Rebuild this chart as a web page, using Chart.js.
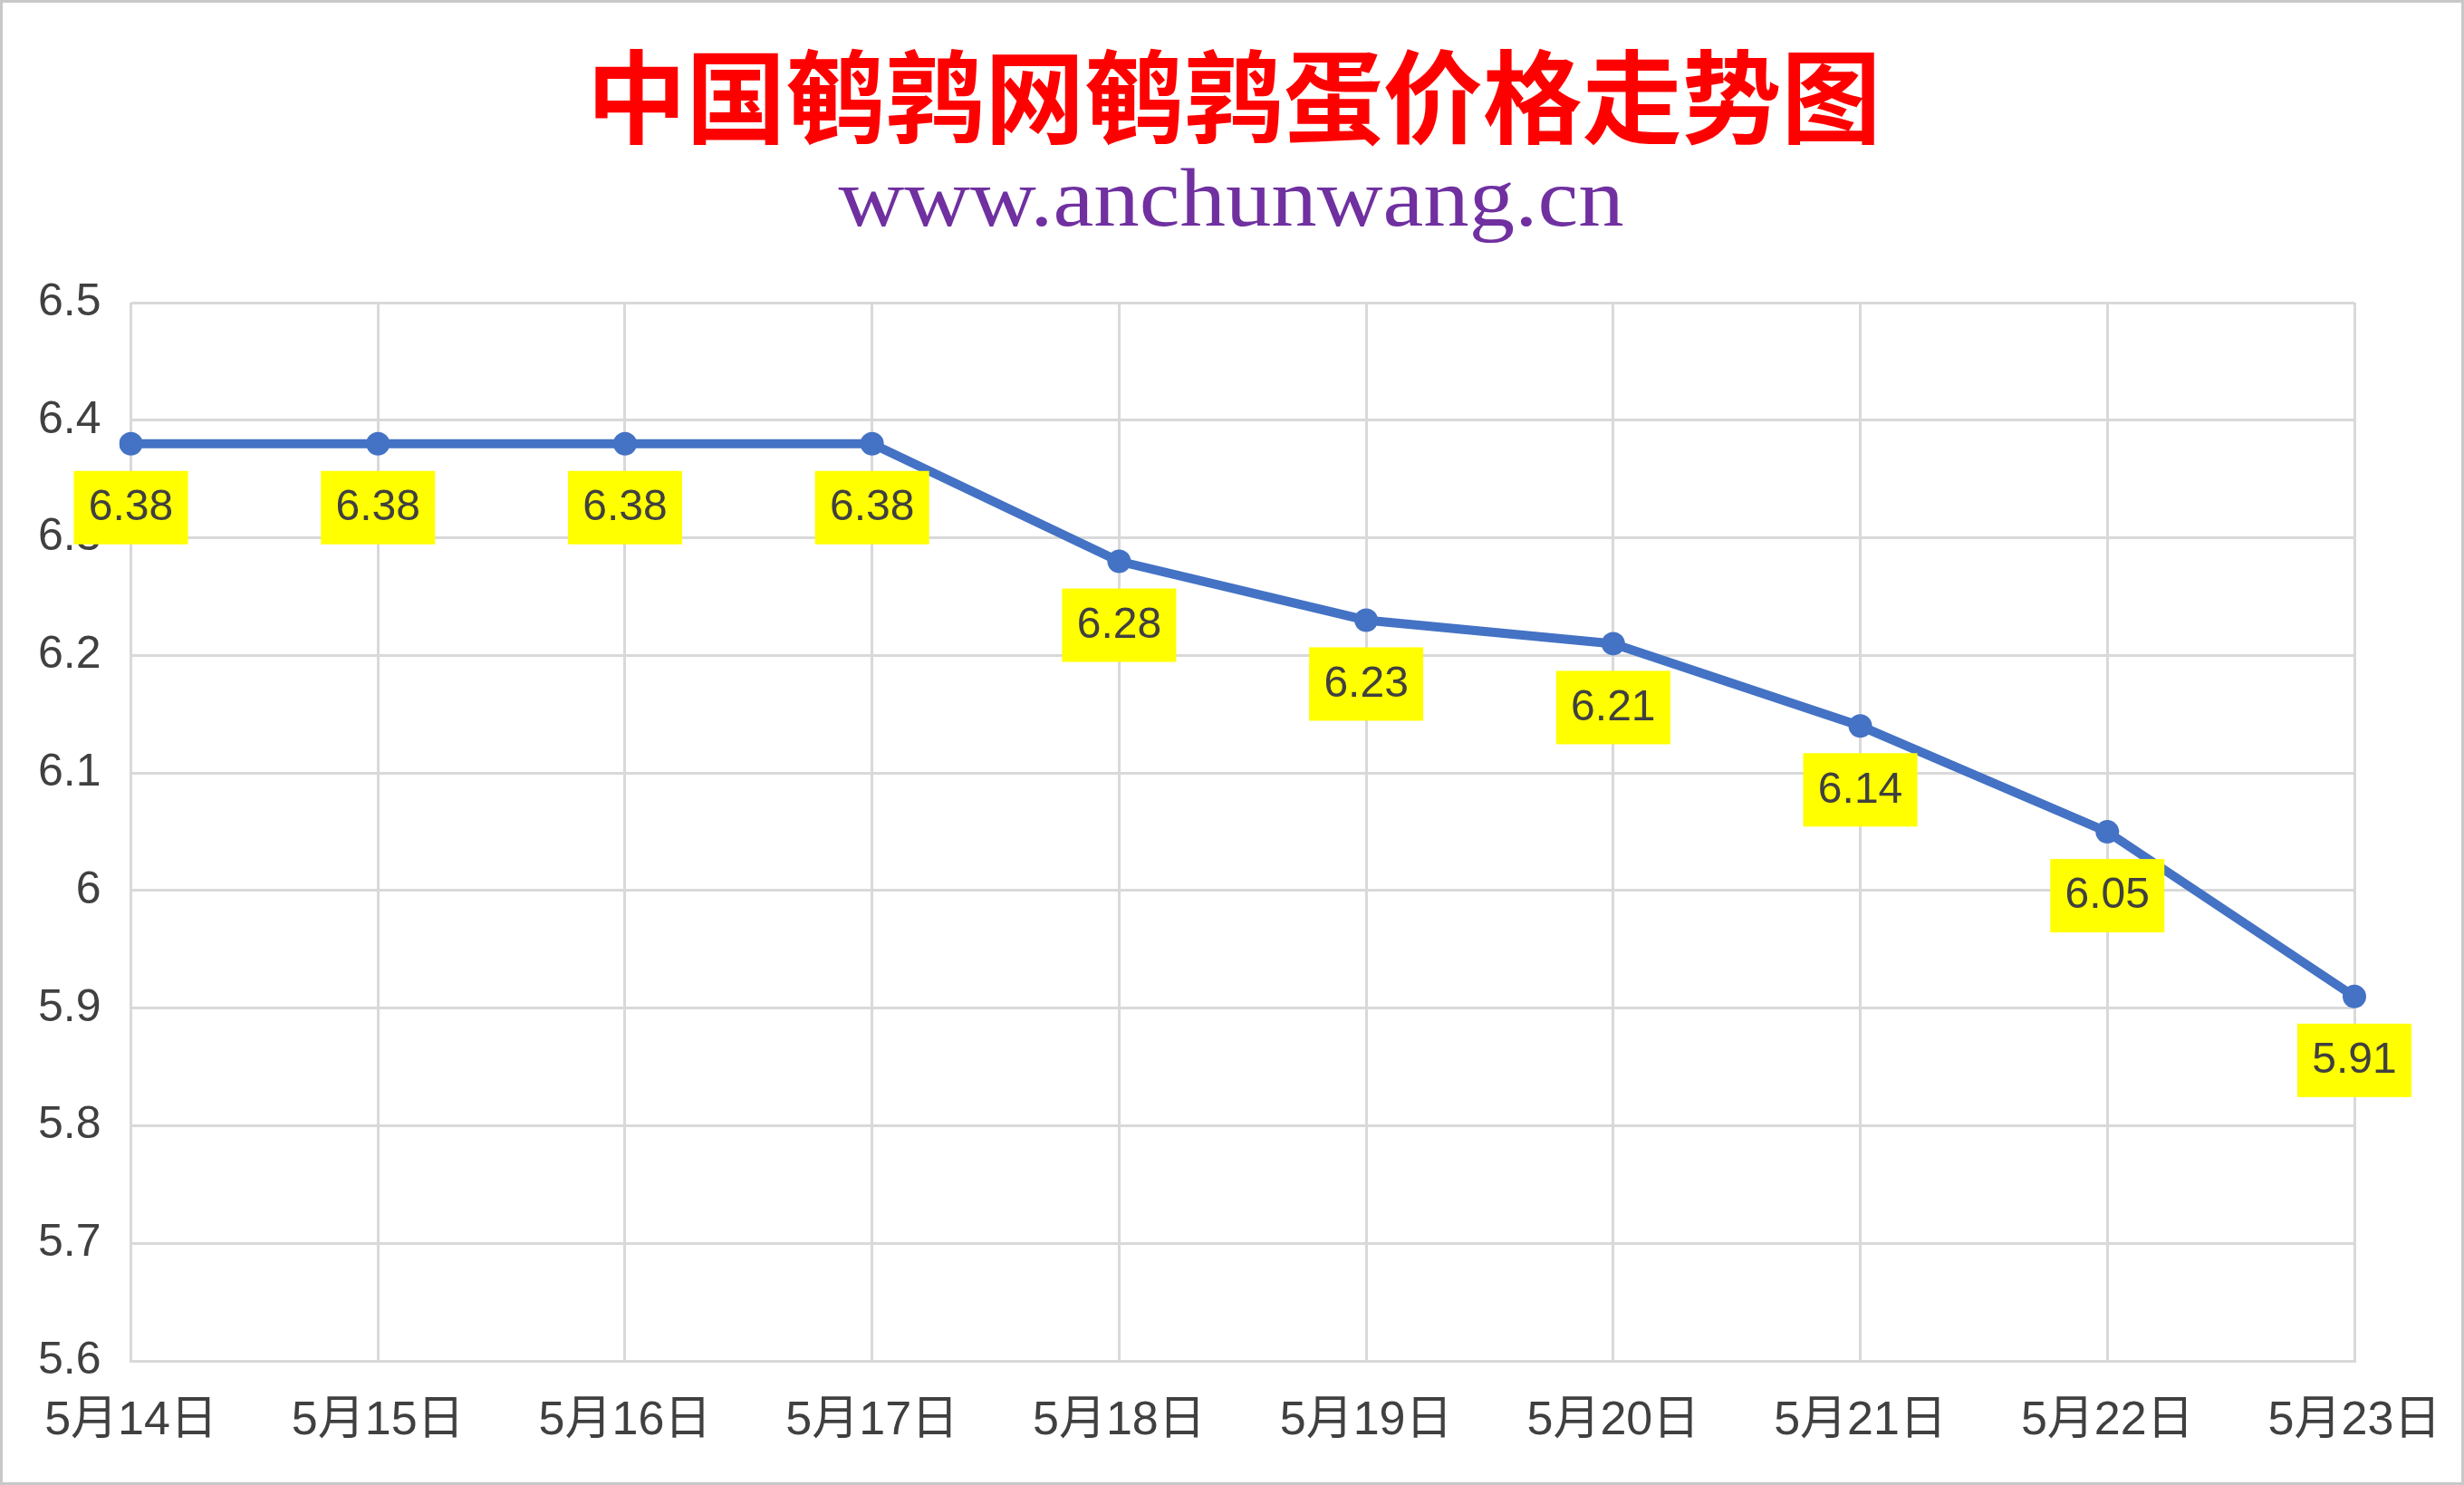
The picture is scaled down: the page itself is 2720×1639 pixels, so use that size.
<!DOCTYPE html>
<html>
<head>
<meta charset="utf-8">
<script src="https://cdn.jsdelivr.net/npm/chart.js@4"></script>
<style>
  html, body { margin: 0; padding: 0; background: #fff; }
  #wrap { width: 2720px; height: 1639px; box-sizing: border-box; border: 3px solid #c8c8c8; position: relative; }
  #chart { display: block; }
</style>
</head>
<body>
<div id="wrap"><canvas id="chart"></canvas></div>
<script>
// 日期与价格（元/斤）
var days = ['5月14日', '5月15日', '5月16日', '5月17日', '5月18日', '5月19日', '5月20日', '5月21日', '5月22日', '5月23日']
var prices = [6.38, 6.38, 6.38, 6.38, 6.28, 6.23, 6.21, 6.14, 6.05, 5.91]
var yMin = 5.6, yMax = 6.5, yStep = 0.1
var titleText = '中国鹌鹑网鹌鹑蛋价格走势图'
var subtitleText = 'www.anchunwang.cn'

var lineColor = '#4472C4'
var gridColor = '#D9D9D9'
var textColor = '#404040'
var fontFamily = "'Liberation Sans', 'Noto Sans CJK SC', sans-serif"

// 画一行文字：给定顶边和目标宽度，横向拉伸/压缩
function drawFittedText(ctx, text, font, color, cx, top, width) {
  ctx.save()
  ctx.font = font
  ctx.fillStyle = color
  ctx.textAlign = 'center'
  ctx.textBaseline = 'alphabetic'
  var m = ctx.measureText(text)
  var sx = width / (m.actualBoundingBoxLeft + m.actualBoundingBoxRight)
  ctx.translate(cx, top + m.actualBoundingBoxAscent)
  ctx.scale(sx, 1)
  ctx.fillText(text, 0, 0)
  ctx.restore()
}

// 标题和网址
var headerText = {
  id: 'headerText',
  afterDraw: function(chart) {
    var ctx = chart.ctx
    var cx = chart.width / 2 + 2
    drawFittedText(ctx, titleText, "bold 112px 'Noto Sans CJK SC', sans-serif", '#FF0000', cx, 50, 1413)
    drawFittedText(ctx, subtitleText, "90px 'Liberation Serif', serif", '#7030A0', cx - 3, 182, 866)
  }
}

// 黄色底的数据标签，画在点的下方
var yellowLabels = {
  id: 'yellowLabels',
  afterDatasetsDraw: function(chart) {
    var ctx = chart.ctx
    var meta = chart.getDatasetMeta(0)
    ctx.save()
    ctx.font = '48px ' + fontFamily
    ctx.textAlign = 'center'
    ctx.textBaseline = 'middle'
    meta.data.forEach(function(pt, i) {
      ctx.fillStyle = '#FFFF00'
      ctx.fillRect(pt.x - 63, pt.y + 30, 126, 81)
      ctx.fillStyle = textColor
      ctx.fillText(prices[i].toFixed(2), pt.x, pt.y + 71)
    })
    ctx.restore()
  }
}

var canvas = document.getElementById('chart')
canvas.width = 2714
canvas.height = 1633
canvas.style.width = '2714px'
canvas.style.height = '1633px'

new Chart(canvas.getContext('2d'), {
  type: 'line',
  data: {
    labels: days,
    datasets: [{
      label: '鹌鹑蛋价格',
      data: prices,
      borderColor: lineColor,
      backgroundColor: lineColor,
      borderWidth: 10,
      pointRadius: 13,
      pointBorderWidth: 0,
      pointBackgroundColor: lineColor,
      tension: 0
    }]
  },
  options: {
    responsive: false,
    animation: false,
    devicePixelRatio: 1,
    layout: {
      padding: { top: 331, left: 6, right: 118, bottom: 1 }
    },
    plugins: {
      legend: { display: false },
      tooltip: { enabled: false },
      title: { display: false }
    },
    scales: {
      x: {
        offset: false,
        grid: { color: gridColor, lineWidth: 3, drawTicks: false },
        border: { display: true, color: gridColor, width: 3 },
        afterFit: function(scale) {
          // 右侧留白由 layout.padding 决定
          scale.paddingRight = 0
        },
        ticks: {
          color: textColor,
          font: { family: fontFamily, size: 52, lineHeight: 0.9 },
          padding: 43,
          maxRotation: 0,
          autoSkip: false
        }
      },
      y: {
        min: yMin,
        max: yMax,
        grid: { color: gridColor, lineWidth: 3, drawTicks: false },
        border: { display: false },
        ticks: {
          stepSize: yStep,
          color: textColor,
          font: { family: fontFamily, size: 50 },
          padding: 33,
          callback: function(value) {
            return parseFloat(value.toFixed(1)).toString()
          }
        }
      }
    }
  },
  plugins: [yellowLabels, headerText]
})
</script>
</body>
</html>
